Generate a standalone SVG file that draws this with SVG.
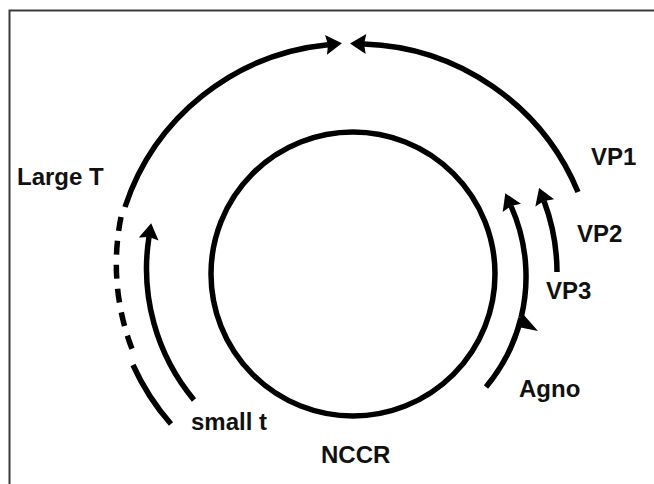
<svg xmlns="http://www.w3.org/2000/svg" width="654" height="484" viewBox="0 0 654 484">
  <style>
    .arc { fill: none; stroke: #000; stroke-width: 5.5; stroke-linecap: butt; }
    .dash { stroke-dasharray: 14 10; }
    .ring { fill: none; stroke: #000; stroke-width: 5.5; }
    .lbl { font-family: "Liberation Sans", Arial, sans-serif; font-weight: bold; font-size: 24px; fill: #111; }
    .frame { fill: none; stroke: #3a3a3a; stroke-width: 2; }
  </style>
  <defs>
    <marker id="head" markerUnits="userSpaceOnUse" viewBox="-1 -11 19 22" markerWidth="19" markerHeight="22" refX="2" refY="0" orient="auto">
      <path d="M0,-10 L16,0 L0,10 L2,0 Z" fill="#000"/>
    </marker>
  </defs>

  <rect width="654" height="484" fill="#fff"/>
  <path class="frame" d="M9.5,484 V10.5 H654"/>

  <!-- genome circle -->
  <g id="genome">
    <circle class="ring" cx="353" cy="274" r="142"/>
  </g>

  <!-- transcripts -->
  <g id="connectors">
    <path id="largeT-solid" class="arc" d="M125,207 A238,238 0 0 1 328,44.7" marker-end="url(#head)"/>
    <path id="largeT-dash" class="arc dash" d="M121,217 A238,238 0 0 0 134,354"/>
    <path id="largeT-lower" class="arc" d="M133,365 A236,236 0 0 0 171,424"/>
    <path id="smallT" class="arc" d="M194,400 A205,205 0 0 1 149,237" marker-end="url(#head)"/>
    <path id="vp1" class="arc" d="M578,192 A240,240 0 0 0 364,44" marker-end="url(#head)"/>
    <path id="vp2" class="arc" d="M557,272 A204,204 0 0 0 544,201" marker-end="url(#head)"/>
    <path id="agno" class="arc" d="M486,387 A173,173 0 0 0 521,318"/>
    <polygon id="agno-head" points="523,314 538,331 518,327" fill="#000"/>
    <path id="vp3" class="arc" d="M521,318 A173,173 0 0 0 511,206" marker-end="url(#head)"/>
  </g>

  <!-- labels -->
  <g id="label-largeT"><text class="lbl" x="17" y="185">Large T</text></g>
  <g id="label-smallT"><text class="lbl" x="191" y="430">small t</text></g>
  <g id="label-nccr"><text class="lbl" x="321" y="463">NCCR</text></g>
  <g id="label-agno"><text class="lbl" x="519" y="397">Agno</text></g>
  <g id="label-vp3"><text class="lbl" x="546" y="299">VP3</text></g>
  <g id="label-vp2"><text class="lbl" x="577" y="242">VP2</text></g>
  <g id="label-vp1"><text class="lbl" x="591" y="165">VP1</text></g>
</svg>
